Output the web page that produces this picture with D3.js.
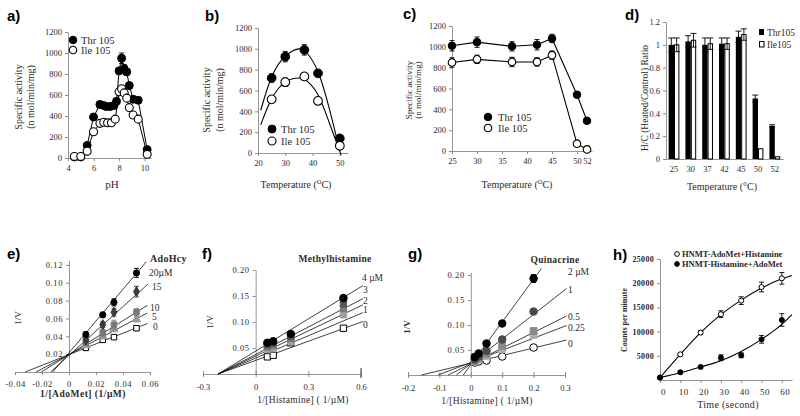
<!DOCTYPE html>
<html><head><meta charset="utf-8">
<script src="https://cdn.jsdelivr.net/npm/d3@7"></script>
<style>body{margin:0;background:#fff}svg{display:block}</style>
</head><body><svg id="c" width="800" height="416"></svg>
<script>
// ---------- data ----------
// a) pH profile
const aPhThr = [4.5,5.0,5.5,6.0,6.5,6.8,7.0,7.3,7.6,7.8,8.0,8.2,8.4,8.6,8.8,9.1,9.5,10.2];
const aThr   = [10,10,120,390,510,500,490,490,500,540,830,950,850,820,690,560,550,80];
const aThrErr= [5,5,20,25,20,20,20,20,20,25,30,50,40,30,30,25,20,20];
const aPhIle = [4.5,5.0,5.5,6.0,6.5,6.8,7.1,7.4,7.7,8.0,8.2,8.4,8.6,8.8,9.1,9.5,10.2];
const aIle   = [15,15,65,250,330,340,335,335,370,630,660,620,570,480,410,370,35];
const aIleErr= [5,5,10,20,20,20,20,20,20,30,30,25,25,20,20,20,10];
// b) temperature optimum
const bTemp = [25,30,37,42,50];
const bThr = [720,925,990,765,140], bThrErr = [40,50,50,30,20];
const bIle = [515,680,735,500,70],  bIleErr = [25,40,30,20,20];
const bThrCurveX = [21,25,30,35,38,42,46,50];
const bThrCurveY = [410,730,930,1000,960,780,440,20];
const bIleCurveX = [21,25,30,35,38,42,46,50.5];
const bIleCurveY = [270,520,680,720,690,560,300,-20];
// c) thermal stability
const cTemp = [25,30,37,42,45,50,52];
const cThr = [1010,1045,1005,1020,1080,540,290], cThrErr = [50,50,45,50,40,20,15];
const cIle = [850,880,855,855,920,70,15],        cIleErr = [45,40,45,40,40,10,5];
const cTicks = [25,30,35,40,45,50,52];
// d) H/C ratio
const dCats = ['25','30','37','42','45','50','52'];
const dThr = [1.0,1.03,1.0,1.01,1.07,0.53,0.29], dThrErr = [0.06,0.05,0.06,0.05,0.05,0.03,0.01];
const dIle = [1.0,1.04,1.01,1.01,1.09,0.09,0.02], dIleErr = [0.06,0.06,0.05,0.05,0.05,0,0];
// e) AdoHcy
const eX = [0.0125,0.025,0.0333,0.05];
const eConc = ['20µM','15','10','5','0'];
const eVals = [[0.042,0.064,0.078,0.111],[0.036,0.053,0.067,0.090],[0.033,0.044,0.053,0.067],[0.030,0.040,0.048,0.059],[0.027,0.036,0.039,0.049]];
const eErrs = [[0.003,0.003,0.004,0.005],[0.003,0.003,0.004,0.006],[0.003,0.004,0.005,0.004],[0.002,0.003,0.003,0.003],[0.002,0.002,0.002,0.002]];
const eLineX0 = [-0.0121,-0.0136,-0.0205,-0.0244,-0.0325];
const eLineX1 = [0.0573,0.0585,0.058,0.058,0.058];
const eLineY1 = [0.1235,0.0985,0.0746,0.066,0.0543];
// f) Methylhistamine
const fX = [0.0667,0.1,0.2,0.5];
const fConc = ['4 µM','3','2','1','0'];
const fVals = [[0.060,0.063,0.077,0.146],[0.056,0.059,0.072,0.135],[0.052,0.055,0.068,0.126],[0.047,0.050,0.063,0.114],[0.033,0.036,0.060,0.088]];
const fErrs = [[0.004,0.004,0.004,0.005],[0.004,0.004,0.004,0.006],[0.004,0.004,0.005,0.006],[0.004,0.004,0.005,0.006],[0.003,0.003,0.004,0.005]];
const fLineX0 = [-0.214,-0.214,-0.214,-0.214,-0.214];
const fLineX1 = [0.611,0.611,0.611,0.611,0.611];
const fLineY1 = [0.170,0.145,0.133,0.118,0.101];
// g) Quinacrine
const gX = [0.0125,0.025,0.05,0.1,0.2];
const gConc = ['2 µM','1','0.5','0.25','0'];
const gVals = [[0.036,0.043,0.063,0.103,0.193],[0.031,0.037,0.048,0.071,0.127],[0.028,0.033,0.042,0.058,0.088],[0.027,0.031,0.038,0.052,0.080],[0.025,0.027,0.029,0.037,0.055]];
const gErrs = [[0.003,0.003,0.003,0.004,0.008],[0.002,0.002,0.003,0.003,0.006],[0.002,0.002,0.003,0.003,0.005],[0.002,0.002,0.002,0.003,0.005],[0.001,0.001,0.002,0.002,0.002]];
const gLineX0 = [-0.024,-0.046,-0.072,-0.104,-0.157];
const gLineX1 = [0.225,0.305,0.305,0.305,0.305];
const gLineY1 = [0.213,0.173,0.118,0.099,0.070];
// h) time course
const hX = [0,10,20,30,40,50,60];
const hOpen = [500,5300,9800,13600,16400,19200,21000], hOpenErr = [200,300,400,700,800,1000,1200];
const hFill = [500,1600,2700,4600,5100,8400,12400],   hFillErr = [200,300,300,600,500,800,1300];
const hCurveX = [0,10,20,30,40,50,60,65];
const hOpenCurve = [500,5300,9800,13500,16500,19000,20900,21600];
const hFillCurve = [500,1500,2700,4000,5900,8400,11500,13500];

// ---------- helpers ----------
const svg = d3.select('#c');
const SERIF = '"Liberation Serif","Times New Roman",serif';
const SANS = '"Liberation Sans",Arial,sans-serif';
const AX = '#8a8a8a', TX = '#2a2a2a';

function styleAx(g, fs, bold){
  g.attr('font-family', SERIF).attr('font-size', fs);
  g.select('.domain').attr('stroke', AX).attr('stroke-width', 0.9);
  g.selectAll('.tick line').attr('stroke', AX);
  g.selectAll('.tick text').attr('fill', TX).attr('font-weight', bold ? 'bold' : null);
  return g;
}
function yAxis(xp, y, ticks, fmt, fs=8.5, bold=false){
  const g = svg.append('g').attr('transform',`translate(${xp},0)`)
    .call(d3.axisLeft(y).tickValues(ticks).tickFormat(fmt).tickSize(3).tickPadding(3).tickSizeOuter(0));
  return styleAx(g, fs, bold);
}
function xAxis(yp, x, ticks, fmt, fs=8.5, pad=4, bold=false){
  const g = svg.append('g').attr('transform',`translate(0,${yp})`)
    .call(d3.axisBottom(x).tickValues(ticks).tickFormat(fmt).tickSize(3).tickPadding(pad).tickSizeOuter(0));
  return styleAx(g, fs, bold);
}
function txt(x, y, s, o={}){
  const t = svg.append('text').attr('x',x).attr('y',y).text(s)
    .attr('font-family', o.family || SERIF).attr('font-size', o.size || 10)
    .attr('fill', o.fill || TX).attr('text-anchor', o.anchor || 'start');
  if (o.bold) t.attr('font-weight','bold');
  if (o.ls) t.attr('letter-spacing', o.ls);
  return t;
}
function vtxt(x, y, s, o={}){
  const t = svg.append('text').attr('transform',`translate(${x},${y}) rotate(-90)`).text(s)
    .attr('font-family', SERIF).attr('font-size', o.size || 10).attr('fill', TX).attr('text-anchor','middle');
  if (o.bold) t.attr('font-weight','bold');
  return t;
}
function title(x, y, s){ txt(x, y, s, {family: SANS, size: 15, bold: true, fill: '#000'}); }
function tempLabel(cx, y, sup){
  const t = svg.append('text').attr('x',cx).attr('y',y).attr('text-anchor','middle')
    .attr('font-family',SERIF).attr('font-size',10).attr('fill',TX);
  t.append('tspan').text('Temperature  (');
  if (sup) { t.append('tspan').text('O').attr('font-size',6.5).attr('dy',-4); t.append('tspan').text('C)').attr('dy',4); }
  else t.append('tspan').text('°C)');
}
function errs(xs, ys, es, x, y, cap, color='#000', w=0.9){
  let d = '';
  xs.forEach((xv,i)=>{
    if (!es[i]) return;
    const px = x(xv), a = y(ys[i]-es[i]), b = y(ys[i]+es[i]);
    d += `M${px},${a}V${b}M${px-cap},${a}H${px+cap}M${px-cap},${b}H${px+cap}`;
  });
  svg.append('path').attr('d', d).attr('stroke', color).attr('stroke-width', w).attr('fill','none');
}
function marks(xs, ys, x, y, sym, size, fill, stroke, sw=1){
  const s = d3.symbol().type(sym).size(size);
  svg.append('g').selectAll('path').data(xs).join('path')
    .attr('transform',(d,i)=>`translate(${x(d)},${y(ys[i])})`)
    .attr('d', s).attr('fill', fill).attr('stroke', stroke).attr('stroke-width', sw);
}
function polyline(xs, ys, x, y, curve, w=1){
  svg.append('path').datum(xs.map((d,i)=>[d, ys[i]]))
    .attr('d', d3.line().x(d=>x(d[0])).y(d=>y(d[1])).curve(curve))
    .attr('fill','none').attr('stroke','#000').attr('stroke-width', w);
}
function seg(x0,y0,x1,y1,x,y,w=0.8){
  svg.append('line').attr('x1',x(x0)).attr('y1',y(y0)).attr('x2',x(x1)).attr('y2',y(y1))
    .attr('stroke','#111').attr('stroke-width',w);
}

// ---------- a ----------
{
  const x = d3.scaleLinear().domain([4,10.5]).range([68,151]);
  const y = d3.scaleLinear().domain([0,1200]).range([158,32]);
  yAxis(68, y, d3.range(0,1201,200), d3.format('d'));
  xAxis(158, x, [4,6,8,10], d3.format('d'));
  polyline(aPhThr, aThr, x, y, d3.curveLinear, 1);
  polyline(aPhIle, aIle, x, y, d3.curveLinear, 1);
  errs(aPhThr, aThr, aThrErr, x, y, 2.5);
  marks(aPhThr, aThr, x, y, d3.symbolCircle, 50, '#000', '#000');
  errs(aPhIle, aIle, aIleErr, x, y, 2.5);
  marks(aPhIle, aIle, x, y, d3.symbolCircle, 50, '#fff', '#000', 1.1);
  marks([0],[0], ()=>73, ()=>40, d3.symbolCircle, 45, '#000', '#000');
  marks([0],[0], ()=>73, ()=>50, d3.symbolCircle, 45, '#fff', '#000', 1.1);
  txt(81, 44, 'Thr 105', {size: 10.5});
  txt(81, 54, 'Ile 105', {size: 10.5});
  vtxt(22, 97, 'Specific activity', {size: 10});
  vtxt(34, 97, '(n mol/min/mg)', {size: 10});
  txt(112, 188, 'pH', {size: 11, anchor: 'middle'});
  title(7, 21, 'a)');
}
// ---------- b ----------
{
  const x = d3.scaleLinear().domain([20,53]).range([258,348]);
  const y = d3.scaleLinear().domain([0,1200]).range([153,28]);
  yAxis(258, y, d3.range(0,1201,200), d3.format('d'));
  xAxis(153, x, [20,30,40,50], d3.format('d'));
  polyline(bThrCurveX, bThrCurveY, x, y, d3.curveNatural, 1.1);
  polyline(bIleCurveX, bIleCurveY, x, y, d3.curveNatural, 1.1);
  errs(bTemp, bThr, bThrErr, x, y, 2.5);
  marks(bTemp, bThr, x, y, d3.symbolCircle, 60, '#000', '#000');
  errs(bTemp, bIle, bIleErr, x, y, 2.5);
  marks(bTemp, bIle, x, y, d3.symbolCircle, 60, '#fff', '#000', 1.1);
  marks([0],[0], ()=>272, ()=>129, d3.symbolCircle, 50, '#000', '#000');
  marks([0],[0], ()=>272, ()=>141, d3.symbolCircle, 50, '#fff', '#000', 1.1);
  txt(281, 133, 'Thr 105', {size: 10.5});
  txt(281, 145, 'Ile 105', {size: 10.5});
  vtxt(210, 100, 'Specific activity', {size: 10});
  vtxt(223, 100, '(n mol/min/mg)', {size: 10});
  tempLabel(296, 188, true);
  title(205, 21, 'b)');
}
// ---------- c ----------
{
  const x = d3.scaleLinear().domain([25,53]).range([452,592]);
  const y = d3.scaleLinear().domain([0,1200]).range([151,26]);
  yAxis(452, y, d3.range(0,1201,200), d3.format('d'));
  xAxis(151, x, cTicks, d3.format('d'));
  polyline(cTemp, cThr, x, y, d3.curveLinear, 1.1);
  polyline(cTemp, cIle, x, y, d3.curveLinear, 1.1);
  errs(cTemp, cThr, cThrErr, x, y, 2.5);
  marks(cTemp, cThr, x, y, d3.symbolCircle, 45, '#000', '#000');
  errs(cTemp, cIle, cIleErr, x, y, 2.5);
  marks(cTemp, cIle, x, y, d3.symbolCircle, 45, '#fff', '#000', 1.1);
  marks([0],[0], ()=>488, ()=>117, d3.symbolCircle, 45, '#000', '#000');
  marks([0],[0], ()=>488, ()=>128, d3.symbolCircle, 45, '#fff', '#000', 1.1);
  txt(498, 121, 'Thr 105', {size: 10.5});
  txt(498, 132, 'Ile 105', {size: 10.5});
  vtxt(412, 90, 'Specific activity', {size: 9});
  vtxt(421, 90, '(n mol/min/mg)', {size: 9});
  tempLabel(517, 188, true);
  title(403, 19, 'c)');
}
// ---------- d ----------
{
  const x = d3.scaleBand().domain(dCats).range([665.6,783.2]).paddingInner(0.36).paddingOuter(0.18);
  const xs = d3.scaleBand().domain(['Thr','Ile']).range([0, x.bandwidth()]);
  const y = d3.scaleLinear().domain([0,1.2]).range([159,22]);
  yAxis(666, y, [0,0.2,0.4,0.6,0.8,1,1.2], d=>String(+d.toFixed(1)));
  const ax = xAxis(159, x, dCats, d=>d);
  ax.selectAll('.tick line').remove();
  const bw = xs.bandwidth();
  svg.append('g').selectAll('rect').data(dCats).join('rect')
    .attr('x', d=>x(d)+xs('Thr')).attr('y',(d,i)=>y(dThr[i])).attr('width',bw)
    .attr('height',(d,i)=>y(0)-y(dThr[i])).attr('fill','#000');
  svg.append('g').selectAll('rect').data(dCats).join('rect')
    .attr('x', d=>x(d)+xs('Ile')+0.5).attr('y',(d,i)=>y(dIle[i])).attr('width',bw-1)
    .attr('height',(d,i)=>y(0)-y(dIle[i])).attr('fill','#fff').attr('stroke','#000').attr('stroke-width',1);
  const cx1 = d=>x(d)+xs('Thr')+bw/2, cx2 = d=>x(d)+xs('Ile')+bw/2;
  const sx1 = d3.scaleOrdinal().domain(dCats).range(dCats.map(cx1));
  const sx2 = d3.scaleOrdinal().domain(dCats).range(dCats.map(cx2));
  errs(dCats, dThr, dThrErr, sx1, y, 3);
  errs(dCats, dIle, dIleErr, sx2, y, 3);
  svg.append('rect').attr('x',759).attr('y',29).attr('width',5).attr('height',6).attr('fill','#000');
  svg.append('rect').attr('x',759.5).attr('y',41.5).attr('width',4.5).attr('height',5.5).attr('fill','#fff').attr('stroke','#000');
  txt(767, 36, 'Thr105', {size: 9.5});
  txt(767, 48, 'Ile105', {size: 9.5});
  vtxt(648, 98, 'H/C (Heated/Control) Ratio', {size: 9.5});
  tempLabel(722, 190, false);
  title(625, 20, 'd)');
}
// ---------- e ----------
{
  const x = d3.scaleLinear().domain([-0.04,0.06]).range([15,150]);
  const y = d3.scaleLinear().domain([0,0.125]).range([372,260.4]);
  yAxis(x(0), y, [0.02,0.04,0.06,0.08,0.10,0.12], d=>d.toFixed(2), 8.5).attr('letter-spacing',0.6);
  xAxis(372, x, [-0.04,-0.02,0,0.02,0.04,0.06], d=>d===0?'0':d.toFixed(2), 8.5, 6).attr('letter-spacing',0.6);
  eConc.forEach((c,k)=>seg(eLineX0[k],0,eLineX1[k],eLineY1[k],x,y,0.8));
  const fills = ['#000','#3a3a3a','#777','#9a9a9a','#fff'];
  const syms = [d3.symbolCircle,d3.symbolDiamond,d3.symbolSquare,d3.symbolTriangle,d3.symbolSquare];
  for (let k=4;k>=0;k--){
    errs(eX, eVals[k], eErrs[k], x, y, 2.5, k===4?'#000':fills[k]);
    marks(eX, eVals[k], x, y, syms[k], 30, fills[k], k===4?'#000':fills[k], 1);
  }
  txt(150, 262, 'AdoHcy', {size: 10, bold: true, ls: 0.3});
  txt(149, 276, '20µM', {size: 9.5});
  txt(152, 290, '15', {size: 9.5});
  txt(150, 311, '10', {size: 9.5});
  txt(152, 320, '5', {size: 9.5});
  txt(153, 330, '0', {size: 9.5});
  txt(83, 397, '1/[AdoMet] (1/µM)', {size: 9.5, bold: true, anchor: 'middle', ls: 0.5});
  vtxt(21, 318, '1/V', {size: 9});
  title(7, 259, 'e)');
}
// ---------- f ----------
{
  const x = d3.scaleLinear().domain([-0.3,0.6]).range([203,361]);
  const y = d3.scaleLinear().domain([0,0.2]).range([374,270]);
  yAxis(x(0), y, [0.05,0.10,0.15,0.20], d=>d.toFixed(2), 8.5).attr('letter-spacing',0.6);
  const ax = xAxis(374, x, [-0.3,0,0.3,0.6], d=>d===0?'0':d.toFixed(1), 8.5, 7);
  ax.selectAll('.tick line').attr('y1',-3).attr('y2',3);
  svg.append('line').attr('x1',x(0.6)).attr('x2',x(0.6)).attr('y1',368).attr('y2',378).attr('stroke','#555').attr('stroke-width',1.2);
  fConc.forEach((c,k)=>seg(fLineX0[k],0,fLineX1[k],fLineY1[k],x,y,0.8));
  const fills = ['#000','#555','#7a7a7a','#a0a0a0','#fff'];
  const syms = [d3.symbolCircle,d3.symbolSquare,d3.symbolSquare,d3.symbolSquare,d3.symbolSquare];
  for (let k=4;k>=0;k--){
    errs(fX, fVals[k], fErrs[k], x, y, 2.5, k===4?'#000':fills[k]);
    marks(fX, fVals[k], x, y, syms[k], k===0?45:40, fills[k], k===4?'#000':fills[k], 1);
  }
  txt(335, 262, 'Methylhistamine', {size: 9.5, bold: true, anchor: 'middle', ls: 0.3});
  txt(362, 281, '4 µM', {size: 9.5});
  txt(363, 293, '3', {size: 9.5});
  txt(363, 304, '2', {size: 9.5});
  txt(363, 313, '1', {size: 9.5});
  txt(363, 328, '0', {size: 9.5});
  txt(303, 403, '1/[Histamine]  ( 1/µM)', {size: 9.5, anchor: 'middle', ls: 0.3});
  vtxt(213, 322, '1/V', {size: 9});
  title(202, 259, 'f)');
}
// ---------- g ----------
{
  const x = d3.scaleLinear().domain([-0.2,0.3]).range([408,565]);
  const y = d3.scaleLinear().domain([0,0.205]).range([375,272.5]);
  yAxis(x(0), y, [0.05,0.10,0.15,0.20], d=>d.toFixed(2), 8.5).attr('letter-spacing',0.6);
  const ax = xAxis(375, x, [-0.2,-0.1,0,0.1,0.2,0.3], d=>d===0?'0':d.toFixed(1), 8.5, 7);
  ax.selectAll('.tick line').attr('y1',-3).attr('y2',3);
  gConc.forEach((c,k)=>seg(gLineX0[k],0,gLineX1[k],gLineY1[k],x,y,0.8));
  const fills = ['#000','#4a4a4a','#8a8a8a','#b0b0b0','#fff'];
  const syms = [d3.symbolCircle,d3.symbolCircle,d3.symbolSquare,d3.symbolSquare,d3.symbolCircle];
  for (let k=4;k>=0;k--){
    errs(gX, gVals[k], gErrs[k], x, y, 2.5, k===4?'#000':fills[k]);
    marks(gX, gVals[k], x, y, syms[k], 45, fills[k], k===4?'#000':fills[k], 1);
  }
  txt(555, 263, 'Quinacrine', {size: 9.5, bold: true, anchor: 'middle', ls: 0.3});
  txt(568, 275, '2 µM', {size: 9.5});
  txt(568, 293, '1', {size: 9.5});
  txt(568, 320, '0.5', {size: 9.5});
  txt(568, 331, '0.25', {size: 9.5});
  txt(568, 347, '0', {size: 9.5});
  txt(487, 404, '1/[Histamine]  ( 1/µM)', {size: 9.5, anchor: 'middle', ls: 0.3});
  vtxt(410, 327, '1/V', {size: 9, bold: true});
  title(408, 259, 'g)');
}
// ---------- h ----------
{
  const x = d3.scaleLinear().domain([0,65]).range([660,792]);
  const y = d3.scaleLinear().domain([0,25000]).range([380,259]);
  yAxis(660, y, [5000,10000,15000,20000,25000], d3.format('d'), 8, true).attr('letter-spacing',0.3);
  const ax = xAxis(380, x, [0,10,20,30,40,50,60], d3.format('d'), 9, 6);
  ax.selectAll('.tick text').attr('dx', 3).attr('letter-spacing',0.6);
  polyline(hCurveX, hOpenCurve, x, y, d3.curveMonotoneX, 1.1);
  polyline(hCurveX, hFillCurve, x, y, d3.curveMonotoneX, 1.1);
  errs(hX, hOpen, hOpenErr, x, y, 2.5);
  marks(hX, hOpen, x, y, d3.symbolCircle, 20, '#fff', '#000', 1);
  errs(hX, hFill, hFillErr, x, y, 2.5);
  marks(hX, hFill, x, y, d3.symbolCircle, 20, '#000', '#000', 1);
  marks([0],[0], ()=>677, ()=>254, d3.symbolCircle, 18, '#fff', '#000', 1);
  marks([0],[0], ()=>677, ()=>264, d3.symbolCircle, 18, '#000', '#000', 1);
  txt(682, 257, 'HNMT-AdoMet+Histamine', {size: 8.5, bold: true});
  txt(682, 267, 'HNMT-Histamine+AdoMet', {size: 8.5, bold: true});
  vtxt(627, 320, 'Counts per minute', {size: 8, bold: true});
  txt(728, 408, 'Time  (second)', {size: 10, anchor: 'middle', ls: 0.3});
  title(613, 260, 'h)');
}
</script></body></html>
